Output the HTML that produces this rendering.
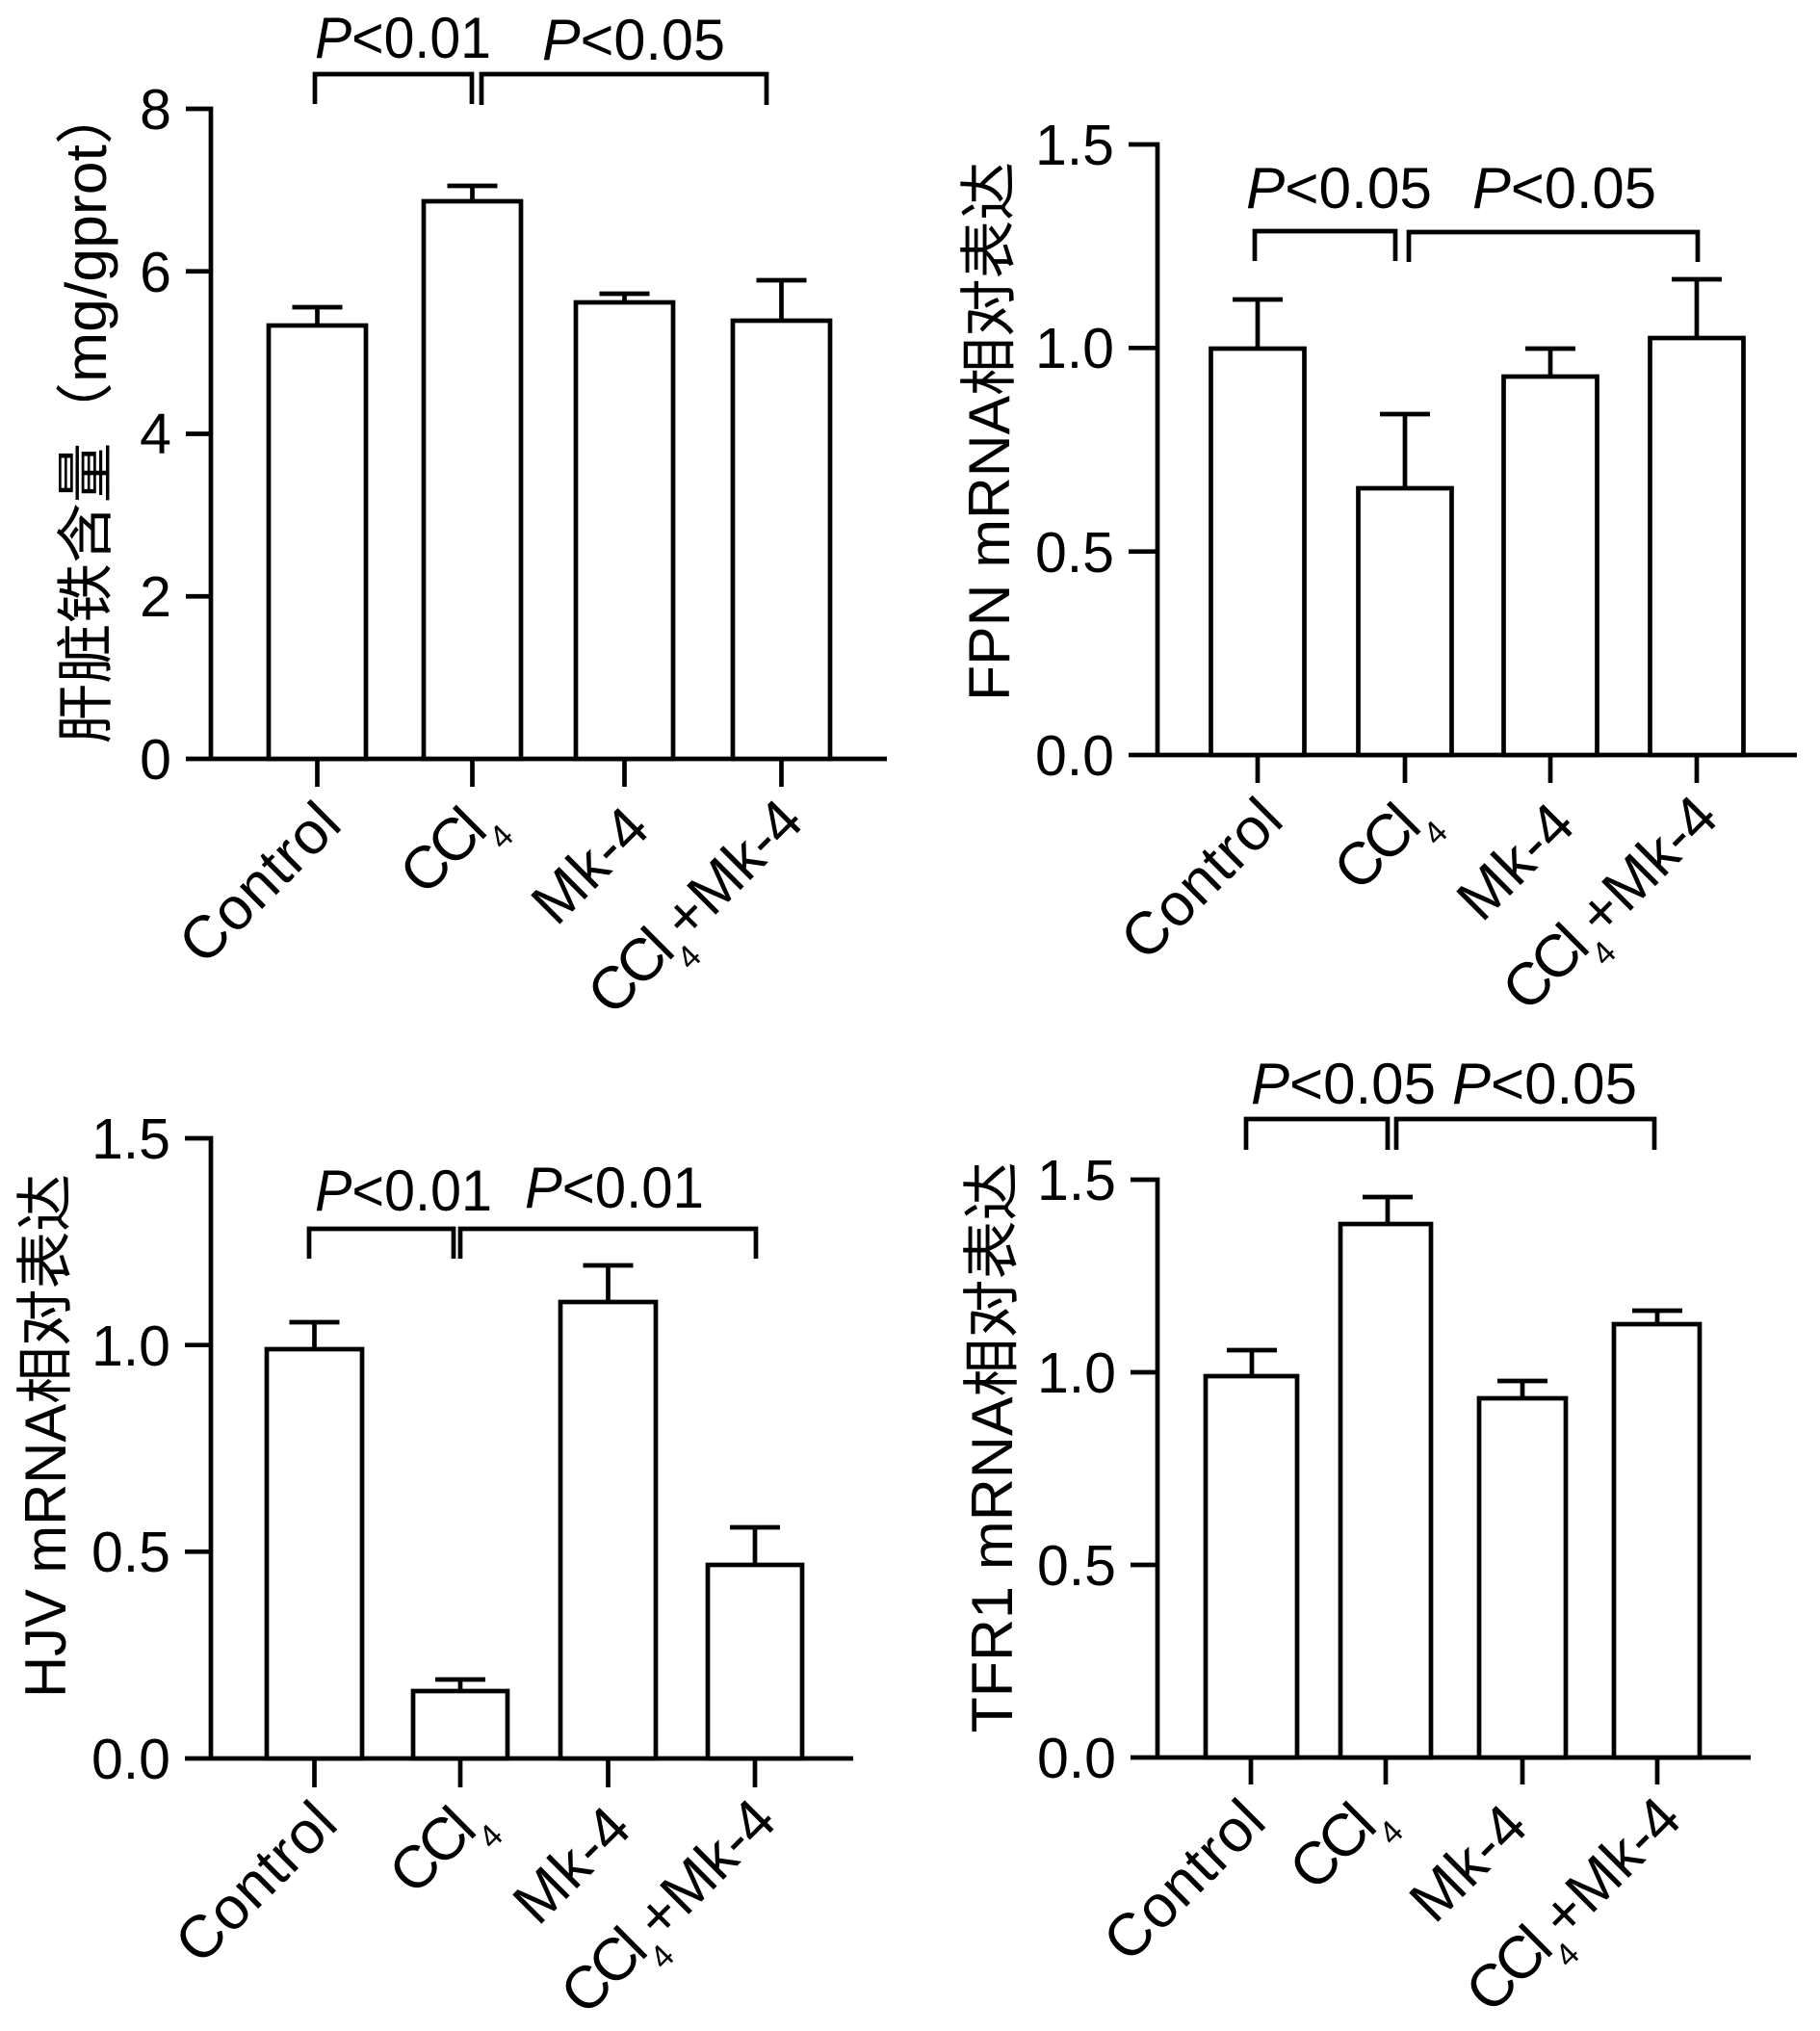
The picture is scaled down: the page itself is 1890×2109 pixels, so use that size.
<!DOCTYPE html>
<html><head><meta charset="utf-8"><style>
html,body{margin:0;padding:0;background:#fff}
svg{display:block}
text{font-family:"Liberation Sans","Noto Sans CJK SC",sans-serif;fill:#000}
</style></head><body>
<svg width="1890" height="2109" viewBox="0 0 1890 2109" xmlns="http://www.w3.org/2000/svg">
<rect width="1890" height="2109" fill="#fff"/>
<g fill="none" stroke="#000" stroke-width="4.7" stroke-linecap="butt" stroke-linejoin="miter">
<!-- Panel 1 -->
<path d="M193,113 H219 V788"/>
<path d="M193,281.75 H219 M193,450.5 H219 M193,619.25 H219"/>
<path d="M193,788 H921"/>
<rect x="279" y="338" width="101" height="450" fill="#fff"/>
<rect x="440" y="209" width="101" height="579" fill="#fff"/>
<rect x="598" y="314" width="101" height="474" fill="#fff"/>
<rect x="761" y="333" width="101" height="455" fill="#fff"/>
<path d="M329.5,338 V319 M303.5,319 H355.5"/>
<path d="M490.5,209 V193 M464.5,193 H516.5"/>
<path d="M648.5,314 V305 M622.5,305 H674.5"/>
<path d="M811.5,333 V291 M785.5,291 H837.5"/>
<path d="M329.5,788 V817 M490.5,788 V817 M648.5,788 V817 M811.5,788 V817"/>
<path d="M327,108 V77 H490 V108"/>
<path d="M500,109 V77 H796 V109"/>

<!-- Panel 2 -->
<path d="M1172,150 H1202 V784"/>
<path d="M1172,361.3 H1202 M1172,572.7 H1202"/>
<path d="M1172,784 H1866"/>
<rect x="1257.5" y="362" width="97" height="422" fill="#fff"/>
<rect x="1410.5" y="507" width="97" height="277" fill="#fff"/>
<rect x="1561.5" y="391" width="97" height="393" fill="#fff"/>
<rect x="1713.5" y="351" width="97" height="433" fill="#fff"/>
<path d="M1306,362 V311 M1280,311 H1332"/>
<path d="M1459,507 V430 M1433,430 H1485"/>
<path d="M1610,391 V362 M1584,362 H1636"/>
<path d="M1762,351 V290 M1736,290 H1788"/>
<path d="M1306,784 V813 M1459,784 V813 M1610,784 V813 M1762,784 V813"/>
<path d="M1303,271 V240 H1449 V271"/>
<path d="M1463,272 V241 H1763 V272"/>

<!-- Panel 3 -->
<path d="M192,1182 H219 V1826"/>
<path d="M192,1396.7 H219 M192,1611.3 H219"/>
<path d="M192,1826 H886"/>
<rect x="277" y="1401" width="99" height="425" fill="#fff"/>
<rect x="429" y="1756" width="98" height="70" fill="#fff"/>
<rect x="582" y="1352" width="99" height="474" fill="#fff"/>
<rect x="735" y="1625" width="98" height="201" fill="#fff"/>
<path d="M326.5,1401 V1373 M300.5,1373 H352.5"/>
<path d="M478,1756 V1744 M452,1744 H504"/>
<path d="M631.5,1352 V1314 M605.5,1314 H657.5"/>
<path d="M784,1625 V1586 M758,1586 H810"/>
<path d="M326.5,1826 V1856 M478,1826 V1856 M631.5,1826 V1856 M784,1826 V1856"/>
<path d="M321,1307 V1276 H471 V1307"/>
<path d="M478,1307 V1276 H785 V1307"/>

<!-- Panel 4 -->
<path d="M1174,1225 H1202 V1825"/>
<path d="M1174,1425 H1202 M1174,1625 H1202"/>
<path d="M1174,1825 H1818"/>
<rect x="1252" y="1429" width="95" height="396" fill="#fff"/>
<rect x="1392" y="1271" width="94" height="554" fill="#fff"/>
<rect x="1536" y="1452" width="90" height="373" fill="#fff"/>
<rect x="1676" y="1375" width="89" height="450" fill="#fff"/>
<path d="M1300,1429 V1402 M1274,1402 H1326"/>
<path d="M1441,1271 V1243 M1415,1243 H1467"/>
<path d="M1581,1452 V1434 M1555,1434 H1607"/>
<path d="M1721,1375 V1361 M1695,1361 H1747"/>
<path d="M1299,1825 V1853 M1439,1825 V1853 M1581,1825 V1853 M1721,1825 V1853"/>
<path d="M1294,1194 V1162 H1441 V1194"/>
<path d="M1450,1194 V1162 H1718 V1194"/>
</g>

<!-- Tick labels -->
<g font-size="59" text-anchor="end">
<text x="178" y="134">8</text>
<text x="178" y="303">6</text>
<text x="178" y="471">4</text>
<text x="178" y="640">2</text>
<text x="178" y="809">0</text>

<text x="1157" y="171">1.5</text>
<text x="1157" y="382">1.0</text>
<text x="1157" y="594">0.5</text>
<text x="1157" y="805">0.0</text>

<text x="177" y="1203">1.5</text>
<text x="177" y="1418">1.0</text>
<text x="177" y="1632">0.5</text>
<text x="177" y="1847">0.0</text>

<text x="1159" y="1246">1.5</text>
<text x="1159" y="1446">1.0</text>
<text x="1159" y="1646">0.5</text>
<text x="1159" y="1846">0.0</text>
</g>

<!-- P labels -->
<g font-size="60">
<text x="327" y="60" textLength="183" lengthAdjust="spacingAndGlyphs"><tspan font-style="italic">P</tspan>&lt;0.01</text>
<text x="563" y="62" textLength="190" lengthAdjust="spacingAndGlyphs"><tspan font-style="italic">P</tspan>&lt;0.05</text>
<text x="1294" y="216" textLength="193" lengthAdjust="spacingAndGlyphs"><tspan font-style="italic">P</tspan>&lt;0.05</text>
<text x="1529" y="216" textLength="191" lengthAdjust="spacingAndGlyphs"><tspan font-style="italic">P</tspan>&lt;0.05</text>
<text x="327" y="1257" textLength="184" lengthAdjust="spacingAndGlyphs"><tspan font-style="italic">P</tspan>&lt;0.01</text>
<text x="545" y="1254" textLength="186" lengthAdjust="spacingAndGlyphs"><tspan font-style="italic">P</tspan>&lt;0.01</text>
<text x="1299" y="1146" textLength="192" lengthAdjust="spacingAndGlyphs"><tspan font-style="italic">P</tspan>&lt;0.05</text>
<text x="1508" y="1146" textLength="192" lengthAdjust="spacingAndGlyphs"><tspan font-style="italic">P</tspan>&lt;0.05</text>
</g>

<!-- Y axis titles -->
<g font-size="60" text-anchor="middle">
<text x="110" y="430" transform="rotate(-90 110 430)" textLength="685" lengthAdjust="spacingAndGlyphs">肝脏铁含量（mg/gprot）</text>
<text x="1048" y="448" transform="rotate(-90 1048 448)" textLength="560" lengthAdjust="spacingAndGlyphs">FPN mRNA相对表达</text>
<text x="68" y="1491" transform="rotate(-90 68 1491)" textLength="544" lengthAdjust="spacingAndGlyphs">HJV mRNA相对表达</text>
<text x="1051" y="1503" transform="rotate(-90 1051 1503)" textLength="593" lengthAdjust="spacingAndGlyphs">TFR1 mRNA相对表达</text>
</g>

<!-- X labels -->
<g font-size="62" text-anchor="end">
<!-- panel 1 -->
<text x="358" y="858" transform="rotate(-45 358 858)" letter-spacing="1">Control</text>
<text x="519" y="854" transform="rotate(-45 519 854)"><tspan letter-spacing="-4">CCl</tspan><tspan font-size="34" dy="23">4</tspan></text>
<text x="678" y="863" transform="rotate(-45 678 863)" letter-spacing="1">Mk-4</text>
<text x="837" y="856" transform="rotate(-45 837 856)"><tspan letter-spacing="-4">CCl</tspan><tspan font-size="34" dy="23">4</tspan><tspan dy="-23">+Mk-4</tspan></text>
<!-- panel 2 -->
<text x="1336" y="854" transform="rotate(-45 1336 854)" letter-spacing="1">Control</text>
<text x="1489" y="850" transform="rotate(-45 1489 850)"><tspan letter-spacing="-4">CCl</tspan><tspan font-size="34" dy="23">4</tspan></text>
<text x="1639" y="859" transform="rotate(-45 1639 859)" letter-spacing="1">Mk-4</text>
<text x="1787" y="852" transform="rotate(-45 1787 852)"><tspan letter-spacing="-4">CCl</tspan><tspan font-size="34" dy="23">4</tspan><tspan dy="-23">+Mk-4</tspan></text>
<!-- panel 3 -->
<text x="354" y="1896" transform="rotate(-45 354 1896)" letter-spacing="1">Control</text>
<text x="508" y="1892" transform="rotate(-45 508 1892)"><tspan letter-spacing="-4">CCl</tspan><tspan font-size="34" dy="23">4</tspan></text>
<text x="659" y="1901" transform="rotate(-45 659 1901)" letter-spacing="1">Mk-4</text>
<text x="809" y="1894" transform="rotate(-45 809 1894)"><tspan letter-spacing="-4">CCl</tspan><tspan font-size="34" dy="23">4</tspan><tspan dy="-23">+Mk-4</tspan></text>
<!-- panel 4 -->
<text x="1318" y="1894" transform="rotate(-45 1318 1894)" letter-spacing="1">Control</text>
<text x="1443" y="1888" transform="rotate(-45 1443 1888)"><tspan letter-spacing="-4">CCl</tspan><tspan font-size="34" dy="23">4</tspan></text>
<text x="1590" y="1899" transform="rotate(-45 1590 1899)" letter-spacing="1">Mk-4</text>
<text x="1749" y="1892" transform="rotate(-45 1749 1892)"><tspan letter-spacing="-4">CCl</tspan><tspan font-size="34" dy="23">4</tspan><tspan dy="-23">+Mk-4</tspan></text>
</g>
</svg>
</body></html>
